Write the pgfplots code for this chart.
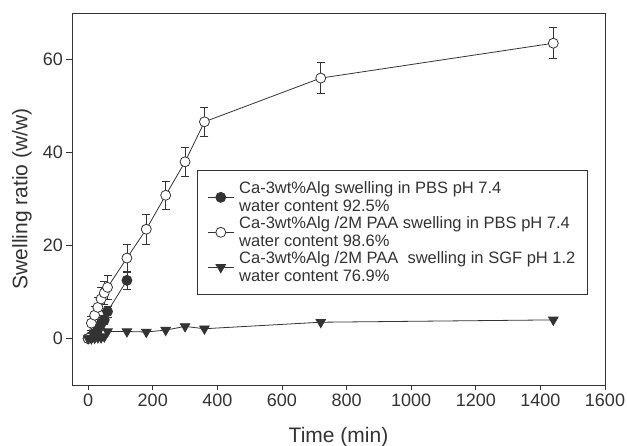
\documentclass[border=0pt]{standalone}
\usepackage{pgfplots}
\pgfplotsset{compat=1.18}
\usepackage{fontspec}
\setmainfont{Liberation Sans}
\definecolor{ink}{HTML}{333333}
\begin{document}
\begin{tikzpicture}[x=1pt,y=1pt]
\begin{axis}[
  scale only axis,
  width=533pt, height=372pt,
  xmin=-50, xmax=1600, ymin=-10, ymax=70,
  xtick={0,200,...,1600}, ytick={0,20,40,60},
  /pgf/number format/assume math mode=true,
  /pgf/number format/1000 sep={},
  tick align=outside, tick pos=left,
  major tick length=5.5pt,
  axis line style={ink, line width=0.8pt},
  tick style={ink, line width=0.8pt},
  ticklabel style={font=\fontsize{18}{20}\selectfont, text=ink},
  xlabel={Time (min)}, ylabel={Swelling ratio (w/w)},
  label style={font=\fontsize{21}{24}\selectfont, text=ink},
  xlabel style={at={(axis description cs:0.5,-0.14)}, anchor=center},
  ylabel style={at={(axis description cs:-0.094,0.5)}, anchor=center, rotate=0},
  legend style={at={(0.2345,0.578)}, anchor=north west, draw=ink, line width=0.8pt,
    font=\fontsize{16.5}{17.5}\selectfont, text=ink, cells={align=left, anchor=west},
    inner xsep=10pt, inner ysep=9.5pt, row sep=0pt,
    /tikz/every odd column/.append style={column sep=3pt}},
  legend image code/.code={\draw[#1] (0pt,0pt) -- (26pt,0pt); \draw[#1, only marks] plot coordinates {(13pt,0pt)};},
  error bars/error bar style={ink, line width=0.8pt},
  error bars/error mark options={rotate=90, mark size=4pt, ink, line width=0.8pt},
]
\addplot[ink, line width=0.8pt, mark=*, mark size=5pt, mark options={fill=ink, draw=ink, solid},
  error bars/.cd, y dir=both, y explicit]
  coordinates {
  (0,0) +- (0,0)
  (10,0.5) +- (0,0.4)
  (20,1.0) +- (0,0.6)
  (30,2.0) +- (0,0.8)
  (40,3.2) +- (0,1.0)
  (50,4.0) +- (0,1.0)
  (60,5.8) +- (0,1.2)
  (120,12.5) +- (0,2.0)
  };
\addlegendentry{Ca-3wt\%Alg swelling in PBS pH 7.4\\water content 92.5\%}
\addplot[ink, line width=0.8pt, mark=*, mark size=5pt, mark options={fill=white, draw=ink, solid},
  error bars/.cd, y dir=both, y explicit]
  coordinates {
  (0,0) +- (0,0)
  (10,3.3) +- (0,1.5)
  (20,5.0) +- (0,2.0)
  (30,6.7) +- (0,2.2)
  (40,8.5) +- (0,2.5)
  (50,9.8) +- (0,2.5)
  (60,11.0) +- (0,2.5)
  (120,17.3) +- (0,3.0)
  (180,23.5) +- (0,3.2)
  (240,30.8) +- (0,3.0)
  (300,38.0) +- (0,3.2)
  (360,46.6) +- (0,3.2)
  (720,56.0) +- (0,3.3)
  (1440,63.5) +- (0,3.3)
  };
\addlegendentry{Ca-3wt\%Alg /2M PAA swelling in PBS pH 7.4\\water content 98.6\%}
\addplot[ink, line width=0.8pt, mark=triangle*, mark size=5.5pt, mark options={fill=ink, draw=ink, solid, rotate=180}]
  coordinates {
  (0,0) (10,0) (20,0.1) (30,0.2) (40,0.2) (50,0.4) (60,1.5)
  (120,1.5) (180,1.4) (240,1.8) (300,2.6) (360,2.1) (720,3.5) (1440,4.0)
  };
\addlegendentry{Ca-3wt\%Alg /2M PAA \ swelling in SGF pH 1.2\\water content 76.9\%}
\end{axis}
\pgfresetboundingbox
\path ([shift={(-72pt,-61pt)}]current axis.south west) rectangle ([shift={(22pt,13pt)}]current axis.north east);
\end{tikzpicture}
\end{document}
